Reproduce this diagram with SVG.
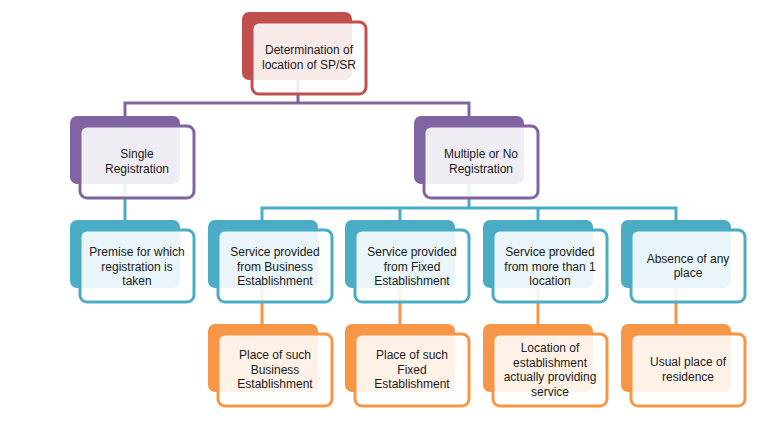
<svg xmlns="http://www.w3.org/2000/svg" width="768" height="426" viewBox="0 0 768 426">
<style>
.bk{stroke:none}
.fr{fill:#ffffff;fill-opacity:0.88;stroke-width:3}
.r .bk{fill:#C0504D}.r .fr{stroke:#C0504D}
.p .bk{fill:#8064A2}.p .fr{stroke:#8064A2}
.t .bk{fill:#4BACC6}.t .fr{stroke:#4BACC6}
.o .bk{fill:#F79646}.o .fr{stroke:#F79646}
text{font-family:"Liberation Sans",Arial,sans-serif;font-size:12px;fill:#1a1a1a;text-anchor:middle}
.c{fill:none;stroke-width:3}
</style>
<g id="connectors">
<path class="c" stroke="#8064A2" d="M298,79 V103 M125,116 V103 H469 V116"/>
<path class="c" stroke="#4BACC6" d="M125,183 V220 M469,183 V208 M262,220 V208 H676 V220 M400,208 V220 M538,208 V220"/>
<path class="c" stroke="#F79646" d="M262,288 V324 M400,288 V324 M538,288 V324 M676,288 V324"/>
</g>
<g id="n-top" class="r"><rect class="bk" x="242" y="12" width="110" height="68" rx="7"/><rect class="fr" x="252" y="22" width="114" height="72" rx="7"/><text x="309" y="54">Determination of</text><text x="309" y="68.5">location of SP/SR</text></g>
<g id="n-single" class="p"><rect class="bk" x="70" y="116" width="110" height="68" rx="7"/><rect class="fr" x="80" y="126" width="114" height="72" rx="7"/><text x="137" y="158">Single</text><text x="137" y="173">Registration</text></g>
<g id="n-multi" class="p"><rect class="bk" x="414" y="116" width="110" height="68" rx="7"/><rect class="fr" x="424" y="126" width="114" height="72" rx="7"/><text x="481" y="158">Multiple or No</text><text x="481" y="173">Registration</text></g>
<g id="n-premise" class="t"><rect class="bk" x="70" y="220" width="110" height="68" rx="7"/><rect class="fr" x="80" y="230" width="114" height="72" rx="7"/><text x="137" y="256">Premise for which</text><text x="137" y="270.5">registration is</text><text x="137" y="285">taken</text></g>
<g id="n-sbe" class="t"><rect class="bk" x="208" y="220" width="110" height="68" rx="7"/><rect class="fr" x="218" y="230" width="114" height="72" rx="7"/><text x="275" y="256">Service provided</text><text x="275" y="270.5">from Business</text><text x="275" y="285">Establishment</text></g>
<g id="n-sfe" class="t"><rect class="bk" x="345" y="220" width="110" height="68" rx="7"/><rect class="fr" x="355" y="230" width="114" height="72" rx="7"/><text x="412" y="256">Service provided</text><text x="412" y="270.5">from Fixed</text><text x="412" y="285">Establishment</text></g>
<g id="n-smore" class="t"><rect class="bk" x="483" y="220" width="110" height="68" rx="7"/><rect class="fr" x="493" y="230" width="114" height="72" rx="7"/><text x="550" y="256">Service provided</text><text x="550" y="270.5">from more than 1</text><text x="550" y="285">location</text></g>
<g id="n-absence" class="t"><rect class="bk" x="621" y="220" width="110" height="68" rx="7"/><rect class="fr" x="631" y="230" width="114" height="72" rx="7"/><text x="688" y="262.5">Absence of any</text><text x="688" y="277">place</text></g>
<g id="n-pbe" class="o"><rect class="bk" x="208" y="324" width="110" height="68" rx="7"/><rect class="fr" x="218" y="334" width="114" height="72" rx="7"/><text x="275" y="359">Place of such</text><text x="275" y="373.5">Business</text><text x="275" y="388">Establishment</text></g>
<g id="n-pfe" class="o"><rect class="bk" x="345" y="324" width="110" height="68" rx="7"/><rect class="fr" x="355" y="334" width="114" height="72" rx="7"/><text x="412" y="359">Place of such</text><text x="412" y="373.5">Fixed</text><text x="412" y="388">Establishment</text></g>
<g id="n-loc" class="o"><rect class="bk" x="483" y="324" width="110" height="68" rx="7"/><rect class="fr" x="493" y="334" width="114" height="72" rx="7"/><text x="550" y="352">Location of</text><text x="550" y="366.5">establishment</text><text x="550" y="381">actually providing</text><text x="550" y="395.5">service</text></g>
<g id="n-usual" class="o"><rect class="bk" x="621" y="324" width="110" height="68" rx="7"/><rect class="fr" x="631" y="334" width="114" height="72" rx="7"/><text x="688" y="366">Usual place of</text><text x="688" y="380.5">residence</text></g>
</svg>
